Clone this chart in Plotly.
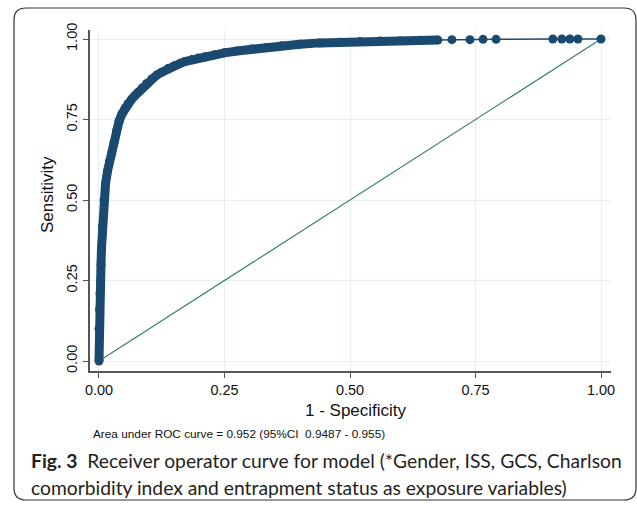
import plotly.graph_objects as go

# ROC curve points (1 - specificity, sensitivity)
fpr = [0.000, 0.000, 0.001, 0.002, 0.003, 0.004, 0.005, 0.007, 0.010, 0.013,
       0.017, 0.021, 0.025, 0.030, 0.035, 0.040, 0.046, 0.052, 0.058, 0.065,
       0.072, 0.078, 0.086, 0.095, 0.105, 0.115, 0.125, 0.138, 0.150, 0.163,
       0.171, 0.185, 0.198, 0.211, 0.230, 0.250, 0.275, 0.304, 0.334, 0.364,
       0.400, 0.440, 0.480, 0.520, 0.560, 0.600, 0.640, 0.675,
       0.703, 0.739, 0.765, 0.791, 0.904, 0.922, 0.938, 0.954, 1.000]
tpr = [0.000, 0.100, 0.160, 0.210, 0.250, 0.300, 0.350, 0.420, 0.500, 0.550,
       0.590, 0.620, 0.645, 0.680, 0.715, 0.745, 0.768, 0.786, 0.800, 0.813,
       0.825, 0.835, 0.848, 0.862, 0.876, 0.888, 0.897, 0.909, 0.917, 0.925,
       0.930, 0.936, 0.941, 0.945, 0.951, 0.957, 0.963, 0.969, 0.974, 0.979,
       0.984, 0.988, 0.990, 0.992, 0.994, 0.995, 0.996, 0.997,
       0.998, 0.998, 0.999, 0.999, 1.000, 1.000, 1.000, 1.000, 1.000]
ref_line = [0, 1]
tick_vals = [0, 0.25, 0.5, 0.75, 1.0]
tick_text = ["0.00", "0.25", "0.50", "0.75", "1.00"]

x_title = "1 - Specificity"
y_title = "Sensitivity"
auc_note = "Area under ROC curve = 0.952 (95%CI\u00a0\u00a00.9487 - 0.955)"
caption_1 = "<b>Fig. 3</b>\u00a0\u00a0Receiver operator curve for model (*Gender, ISS, GCS, Charlson"
caption_2 = "comorbidity index and entrapment status as exposure variables)"

W, H = 637, 506
L, R, T, B = 90, 611, 30, 371  # plot area in pixels

def px(X):
    return (X - L) / (R - L)

def py(Y):
    return (B - Y) / (B - T)

CURVE = "#1b4a70"
DIAG = "#3a7d70"

dense_x = [x for x in fpr if x <= 0.68]
dense_y = tpr[:len(dense_x)]

fig = go.Figure()
fig.add_trace(go.Scatter(x=ref_line, y=ref_line, mode="lines",
                         line=dict(color=DIAG, width=1.2), hoverinfo="skip"))
fig.add_trace(go.Scatter(x=dense_x, y=dense_y, mode="lines",
                         line=dict(color=CURVE, width=9), hoverinfo="skip"))
fig.add_trace(go.Scatter(x=fpr, y=tpr, mode="lines+markers",
                         line=dict(color=CURVE, width=1.5),
                         marker=dict(color=CURVE, size=9)))

axis_common = dict(
    tickvals=tick_vals, ticktext=tick_text,
    showgrid=True, gridcolor="#e6eff1", gridwidth=1,
    zeroline=False, showline=True, linecolor="#555555", linewidth=1.5,
    ticks="outside", ticklen=5, tickcolor="#555555", tickwidth=1.2,
    tickfont=dict(family="Liberation Sans, Arial, sans-serif", size=14.5, color="#111111"),
)
fig.update_layout(
    width=W, height=H,
    margin=dict(l=L, r=W - R, t=T, b=H - B),
    paper_bgcolor="white", plot_bgcolor="white",
    showlegend=False,
    xaxis=dict(range=[-0.0179, 1.0199], **axis_common),
    yaxis=dict(range=[-0.031, 1.028], tickangle=-90, **axis_common),
)

ann_font = "Liberation Sans, Arial, sans-serif"
fig.add_annotation(xref="paper", yref="paper", x=px(356), y=py(411),
                   text=x_title, showarrow=False, xanchor="center", yanchor="middle",
                   font=dict(family=ann_font, size=17, color="#111111"))
fig.add_annotation(xref="paper", yref="paper", x=px(47), y=py(195),
                   text=y_title, showarrow=False, textangle=-90,
                   xanchor="center", yanchor="middle",
                   font=dict(family=ann_font, size=17, color="#111111"))
fig.add_annotation(xref="paper", yref="paper", x=px(91), y=py(434),
                   text=auc_note, showarrow=False, xanchor="left", yanchor="middle",
                   font=dict(family=ann_font, size=11.8, color="#111111"))
cap_font = "Lato, Open Sans, sans-serif"
fig.add_annotation(xref="paper", yref="paper", x=px(29), y=py(460),
                   text=caption_1, showarrow=False, xanchor="left", yanchor="middle",
                   font=dict(family=cap_font, size=19.3, color="#231f20"))
fig.add_annotation(xref="paper", yref="paper", x=px(29), y=py(487),
                   text=caption_2, showarrow=False, xanchor="left", yanchor="middle",
                   font=dict(family=cap_font, size=19.3, color="#231f20"))

# rounded frame around the figure
x0, x1, y0, y1, r = 14, 636, 8, 500, 12
path = (f"M {px(x0)},{py(y0 + r)} "
        f"Q {px(x0)},{py(y0)} {px(x0 + r)},{py(y0)} "
        f"L {px(x1 - r)},{py(y0)} "
        f"Q {px(x1)},{py(y0)} {px(x1)},{py(y0 + r)} "
        f"L {px(x1)},{py(y1 - r)} "
        f"Q {px(x1)},{py(y1)} {px(x1 - r)},{py(y1)} "
        f"L {px(x0 + r)},{py(y1)} "
        f"Q {px(x0)},{py(y1)} {px(x0)},{py(y1 - r)} Z")
fig.add_shape(type="path", xref="paper", yref="paper", path=path,
              line=dict(color="#333333", width=1.2), fillcolor="rgba(0,0,0,0)")

fig.write_html("out.html", config={"displayModeBar": False},
               post_script="document.body.style.margin='0';document.body.style.overflow='hidden';")
